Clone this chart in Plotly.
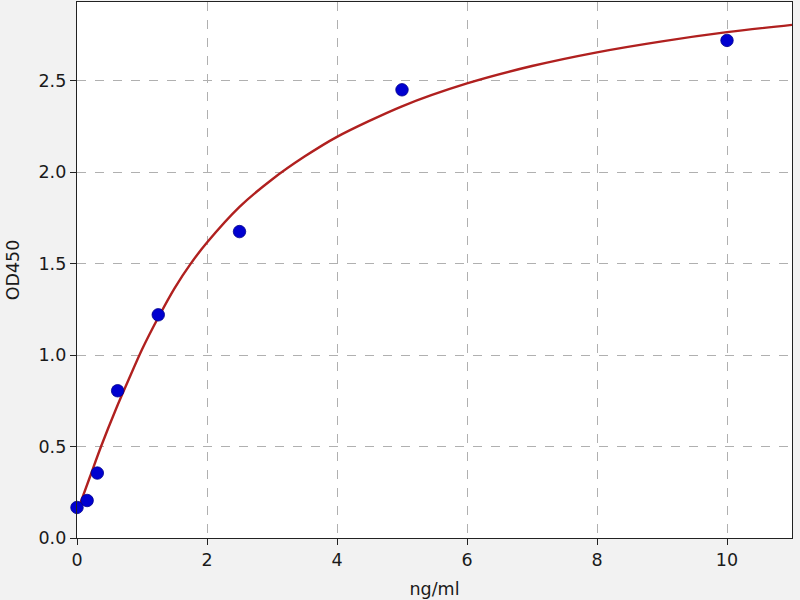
import plotly.graph_objects as go

# standard points
conc = [0, 0.156, 0.3125, 0.625, 1.25, 2.5, 5, 10]
od = [0.167, 0.205, 0.355, 0.805, 1.22, 1.675, 2.45, 2.72]

# fitted curve
curve_x = [0, 0.2, 0.37, 0.6, 0.8, 1.0, 1.25, 1.5, 1.75, 2.0, 2.5, 3.0, 3.5, 4.0, 5.0, 6.0, 7.0, 8.0, 9.0, 10.0, 11.0]
curve_y = [0.14, 0.335, 0.50, 0.705, 0.87, 1.03, 1.205, 1.365, 1.50, 1.615, 1.81, 1.96, 2.085, 2.193, 2.36, 2.485, 2.58, 2.655, 2.715, 2.765, 2.805]

x_ticks = [0, 2, 4, 6, 8, 10]
y_ticks = [0.0, 0.5, 1.0, 1.5, 2.0, 2.5]
y_tick_labels = ["0.0", "0.5", "1.0", "1.5", "2.0", "2.5"]

FONT = "DejaVu Sans"
TXT = "#1a1a1a"

fig = go.Figure()
fig.add_trace(go.Scatter(
    x=curve_x, y=curve_y, mode="lines",
    line=dict(color="#b0201f", width=2.4, shape="spline", smoothing=0.8),
    hoverinfo="skip", showlegend=False,
))
fig.add_trace(go.Scatter(
    x=conc, y=od, mode="markers",
    marker=dict(color="#0000d0", size=12.5, line=dict(width=0.8, color="#00008b")),
    showlegend=False, cliponaxis=False,
))

axis_common = dict(
    showline=True, linecolor="#222222", linewidth=1.4, mirror=True,
    ticks="outside", ticklen=6, tickcolor="#222222", tickwidth=1.4,
    showgrid=True, gridcolor="#b0b0b0", griddash="dash", gridwidth=1.1,
    zeroline=False, automargin=False,
    tickfont=dict(family=FONT, size=17.5, color=TXT),
)

fig.update_xaxes(
    range=[0, 11], tickvals=x_ticks,
    title=dict(text="ng/ml", font=dict(family=FONT, size=17.5, color=TXT), standoff=13),
    **axis_common,
)
fig.update_yaxes(
    range=[0, 2.93], tickvals=y_ticks, ticktext=y_tick_labels,
    title=dict(text="OD450", font=dict(family=FONT, size=17.5, color=TXT), standoff=14),
    **axis_common,
)

fig.update_layout(
    width=800, height=600,
    margin=dict(l=77, r=8, t=2, b=62),
    paper_bgcolor="#f2f2f2", plot_bgcolor="#ffffff",
    font=dict(family=FONT, size=17.5, color=TXT),
)

fig.write_html(
    "out.html",
    config={"displayModeBar": False},
    post_script="document.body.style.margin='0';",
)
